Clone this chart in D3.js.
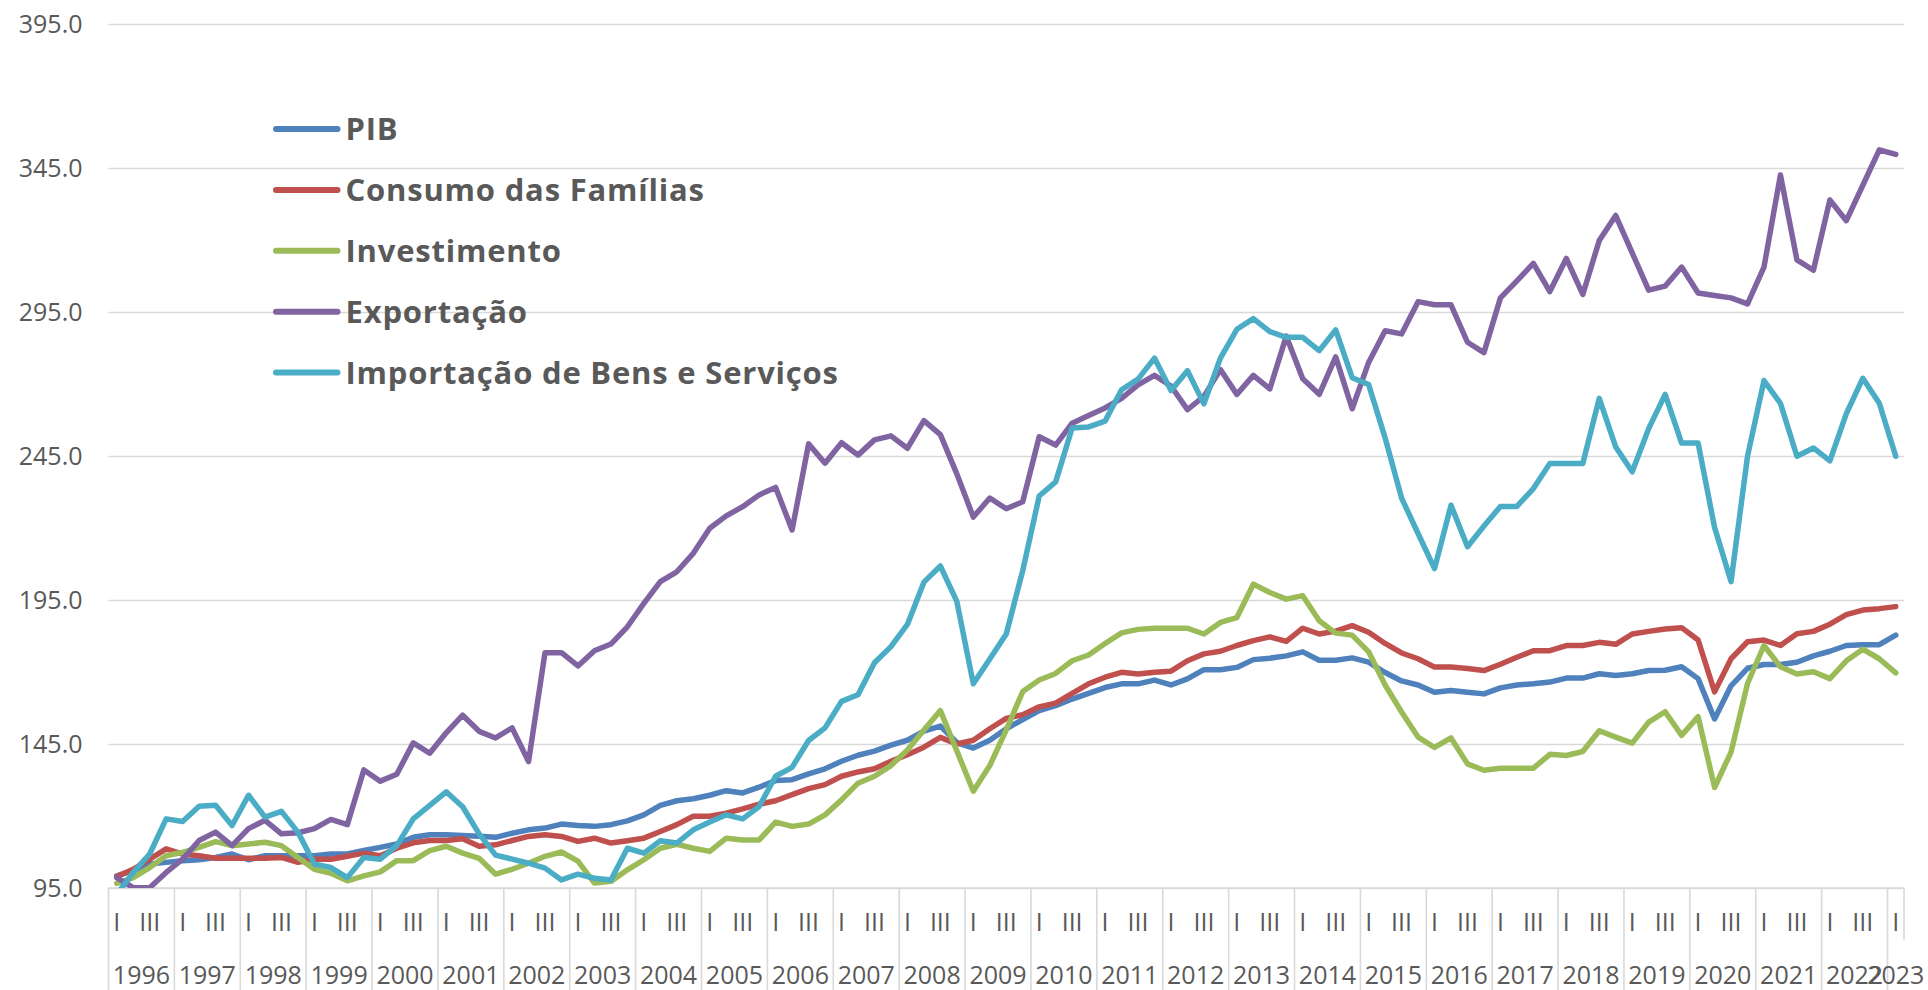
<!DOCTYPE html>
<html>
<head>
<meta charset="utf-8">
<script src="https://cdn.jsdelivr.net/npm/d3@7/dist/d3.min.js"></script>
<style>
  body { margin: 0; background: #fff; }
  svg text { font-family: "Open Sans", Lato, sans-serif; fill: #595959; }
</style>
</head>
<body>
<script>
// valores trimestrais 1996.I - 2023.I (indice)
const years = [1996, 1997, 1998, 1999, 2000, 2001, 2002, 2003, 2004, 2005, 2006, 2007, 2008, 2009,
               2010, 2011, 2012, 2013, 2014, 2015, 2016, 2017, 2018, 2019, 2020, 2021, 2022, 2023];
const quarterNames = ["I", "II", "III", "IV"];
const shownQuarters = ["I", "III"];
const yTicks = [95, 145, 195, 245, 295, 345, 395];

const pib = [99.2, 101, 103.3, 103.9, 104.5, 104.8, 105.6, 106.8, 104.8, 106.2, 106.2, 106.2,
  106.2, 106.8, 106.8, 108, 109.1, 110.3, 112.6, 113.5, 113.5, 113.2, 113, 112.6,
  114, 115.2, 115.8, 117.2, 116.7, 116.4, 117, 118.3, 120.4, 123.7, 125.3, 126,
  127.2, 128.8, 128, 130, 132.3, 132.6, 134.6, 136.4, 139, 141.1, 142.5, 144.6,
  146.3, 149.5, 151.2, 145.5, 143.6, 146.3, 150.3, 153.5, 156.6, 158.3, 160.6, 162.6,
  164.6, 165.9, 165.9, 167.2, 165.5, 167.6, 170.8, 170.8, 171.6, 174.3, 174.8, 175.6,
  177, 174.1, 174.1, 174.9, 173.4, 169.8, 166.9, 165.5, 163, 163.6, 163, 162.4,
  164.5, 165.5, 165.9, 166.5, 167.9, 167.9, 169.4, 168.8, 169.4, 170.5, 170.6, 171.8,
  167.7, 153.7, 165.2, 171.3, 172.6, 172.6, 173.4, 175.6, 177.2, 179.2, 179.5, 179.5,
  182.8];

const consumo = [99, 101.5, 105, 108.6, 106.8, 106.2, 105.3, 105.3, 105.3, 105.3, 105.6, 103.9,
  105, 105, 106, 107.1, 106.2, 108.8, 110.7, 111.5, 111.5, 112.1, 109.5, 110,
  111.5, 112.9, 113.5, 112.9, 111.2, 112.3, 110.6, 111.4, 112.3, 114.6, 117, 119.9,
  119.9, 121, 122.5, 124.1, 125.3, 127.4, 129.5, 130.9, 133.8, 135.3, 136.4, 139,
  141.3, 143.9, 147.3, 145, 146.3, 150.3, 153.9, 155.2, 157.9, 159.2, 162.6, 165.9,
  168.2, 169.9, 169.3, 169.9, 170.3, 173.9, 176.3, 177.2, 179.2, 180.9, 182.2, 180.6,
  185.2, 183.2, 184.2, 186.1, 183.8, 179.9, 176.6, 174.6, 171.7, 171.7, 171.2, 170.5,
  172.7, 175.1, 177.4, 177.4, 179.2, 179.2, 180.3, 179.6, 183.2, 184.1, 184.9, 185.4,
  181.1, 163.1, 174.6, 180.5, 181.1, 179.2, 183.3, 184.1, 186.6, 189.9, 191.5, 192,
  192.7];

const investimento = [96.6, 98.6, 102.1, 106.2, 107.4, 109.1, 111.1, 109.7, 110.3, 110.9, 109.7, 105.6,
  101.5, 100.1, 97.5, 99.2, 100.6, 104.5, 104.5, 108, 109.5, 107.1, 105.3, 99.8,
  101.5, 103.6, 106, 107.5, 104.3, 96.7, 97.3, 101.3, 104.8, 108.8, 110.2, 108.8,
  107.7, 112.3, 111.7, 111.7, 117.9, 116.4, 117.2, 120.4, 125.6, 131.4, 133.8, 137.5,
  142.9, 149.9, 156.6, 142.6, 128.6, 137.5, 149.9, 163.2, 167.2, 169.5, 173.9, 175.9,
  179.9, 183.6, 184.8, 185.2, 185.2, 185.2, 183.2, 187.2, 188.9, 200.5, 197.6, 195.3,
  196.5, 187.8, 183.5, 182.8, 177, 165.5, 156.1, 147.4, 143.8, 147.1, 138.1, 135.9,
  136.6, 136.6, 136.6, 141.4, 141, 142.4, 149.6, 147.4, 145.3, 152.6, 156.2, 148,
  154.5, 129.9, 142.2, 166, 179.2, 171.8, 169.3, 170.1, 167.7, 173.9, 177.9, 174.6,
  169.7];

const exportacao = [98.6, 95.1, 95.1, 100.4, 105, 111.5, 114.4, 109.7, 115.6, 118.5, 113.8, 114.2,
  115.6, 118.8, 117, 136, 132.1, 134.5, 145.4, 141.8, 148.9, 155, 149.4, 147.1,
  150.6, 138.9, 176.7, 176.7, 172.1, 177.4, 179.7, 185.7, 193.8, 201.4, 204.8, 211.2,
  219.9, 224.2, 227.4, 231.5, 234.1, 219.3, 249.2, 242.5, 249.6, 245.3, 250.6, 252,
  247.7, 257.3, 252.4, 238.8, 223.8, 230.4, 226.7, 229.1, 251.7, 248.8, 256.4, 259.1,
  261.7, 265, 269.7, 273, 269.3, 261.1, 265.7, 275, 266.4, 273, 268.3, 286.6,
  271.8, 266.4, 279.4, 261.4, 277.5, 288.5, 287.4, 298.6, 297.5, 297.5, 284.5, 280.9,
  299.9, 305.8, 311.9, 302.1, 313.6, 301.1, 319.8, 328.5, 315.5, 302.6, 304, 310.6,
  301.6, 300.7, 299.9, 297.8, 310.6, 342.6, 313.1, 309.5, 333.9, 326.7, 339, 351.3,
  349.7];

const importacao = [92.7, 100.4, 106.8, 119, 118.1, 123.4, 123.7, 116.7, 127.2, 119.6, 121.6, 114.4,
  103.3, 102.1, 98.6, 105.6, 105, 109.7, 119, 123.7, 128.4, 123.2, 113.8, 106.4,
  105, 103.6, 101.9, 97.8, 99.8, 98.4, 97.8, 108.8, 107.1, 111.4, 110.6, 115.2,
  117.9, 120.4, 119, 123.3, 133.8, 136.9, 146.2, 150.6, 159.8, 162.1, 173.2, 178.8,
  186.5, 201.2, 206.8, 194.5, 165.9, 174.5, 183.2, 205.2, 231.1, 236, 254.7, 255.1,
  257.1, 268, 271.7, 279, 267.7, 274.6, 263.1, 279, 289, 292.7, 288.2, 286.2,
  286.2, 281.6, 288.8, 272.2, 269.8, 251.3, 230.4, 218.1, 205.9, 227.9, 213.5, 220.7,
  227.5, 227.5, 233.7, 242.4, 242.4, 242.4, 265, 248.1, 239.5, 254.5, 266.4, 249.5,
  249.5, 220.2, 201.4, 244.9, 271.2, 263.3, 244.9, 247.8, 243.3, 259.7, 272, 263.3,
  244.9];

const series = [
  { name: "PIB", color: "#4F81BD", values: pib },
  { name: "Consumo das Famílias", color: "#C0504D", values: consumo },
  { name: "Investimento", color: "#9BBB59", values: investimento },
  { name: "Exportação", color: "#8064A2", values: exportacao },
  { name: "Importação de Bens e Serviços", color: "#4BACC6", values: importacao }
];

const W = 1928, H = 990;
const plotLeft = 108.5, plotRight = 1904, plotTop = 24, plotBottom = 888;
const grid = "#D9D9D9";
const labelSize = 25;

// categorias: ano + trimestre
const cats = pib.map((d, i) => ({
  key: i,
  year: years[Math.floor(i / 4)],
  q: quarterNames[i % 4]
}));

const x = d3.scaleBand()
  .domain(cats.map(d => d.key))
  .range([plotLeft, plotRight])
  .padding(0);

const y = d3.scaleLinear()
  .domain([95, 395])
  .range([plotBottom, plotTop]);

const svg = d3.select("body").append("svg")
  .attr("width", W)
  .attr("height", H);

// eixo y + grade
const yAxis = d3.axisLeft(y)
  .tickValues(yTicks)
  .tickFormat(d3.format(".1f"))
  .tickSize(-(plotRight - plotLeft))
  .tickPadding(26);

const gy = svg.append("g")
  .attr("transform", "translate(" + plotLeft + ",0)")
  .call(yAxis);
gy.select(".domain").remove();
gy.selectAll(".tick line").attr("stroke", grid).attr("stroke-width", 1.6);
gy.selectAll(".tick text")
  .attr("font-size", labelSize)
  .attr("fill", "#595959")
  .style("font-family", "'Open Sans', Lato, sans-serif");

// eixo de categorias
const bw = x.bandwidth();
const xg = svg.append("g");

xg.append("line")
  .attr("x1", plotLeft).attr("x2", plotRight)
  .attr("y1", plotBottom).attr("y2", plotBottom)
  .attr("stroke", grid).attr("stroke-width", 1.6);

const yearStarts = cats.filter(d => d.q === "I");
xg.selectAll(".div")
  .data(yearStarts)
  .enter().append("line")
  .attr("x1", d => x(d.key)).attr("x2", d => x(d.key))
  .attr("y1", plotBottom).attr("y2", H)
  .attr("stroke", grid).attr("stroke-width", 1.6);

xg.append("line")
  .attr("x1", plotRight).attr("x2", plotRight)
  .attr("y1", plotBottom).attr("y2", 940)
  .attr("stroke", grid).attr("stroke-width", 1.6);

xg.selectAll(".qlab")
  .data(cats.filter(d => shownQuarters.includes(d.q)))
  .enter().append("text")
  .attr("x", d => x(d.key) + bw / 2)
  .attr("y", 930.5)
  .attr("text-anchor", "middle")
  .attr("font-size", labelSize)
  .text(d => d.q);

xg.selectAll(".ylab")
  .data(years)
  .enter().append("text")
  .attr("x", yr => {
    const qs = cats.filter(d => d.year === yr);
    return (x(qs[0].key) + x(qs[qs.length - 1].key) + bw) / 2;
  })
  .attr("y", 984)
  .attr("text-anchor", "middle")
  .attr("font-size", labelSize)
  .text(yr => yr);

// linhas
svg.append("clipPath").attr("id", "plot")
  .append("rect")
  .attr("x", 0).attr("y", 0)
  .attr("width", W).attr("height", plotBottom);

const line = d3.line()
  .x((d, i) => x(i) + bw / 2)
  .y(d => y(d));

svg.append("g").attr("clip-path", "url(#plot)")
  .selectAll("path")
  .data(series)
  .enter().append("path")
  .attr("d", s => line(s.values))
  .attr("fill", "none")
  .attr("stroke", s => s.color)
  .attr("stroke-width", 5.5)
  .attr("stroke-linejoin", "round")
  .attr("stroke-linecap", "round");

// legenda
const lg = svg.append("g");
const rows = lg.selectAll("g")
  .data(series)
  .enter().append("g")
  .attr("transform", (s, i) => "translate(0," + (129 + i * 60.9) + ")");

rows.append("line")
  .attr("x1", 276).attr("x2", 337.5)
  .attr("stroke", s => s.color)
  .attr("stroke-width", 6)
  .attr("stroke-linecap", "round");

rows.append("text")
  .attr("x", 345.5)
  .attr("y", 11)
  .attr("font-size", 31)
  .attr("font-weight", "bold")
  .attr("letter-spacing", 0.8)
  .text(s => s.name);
</script>
</body>
</html>
